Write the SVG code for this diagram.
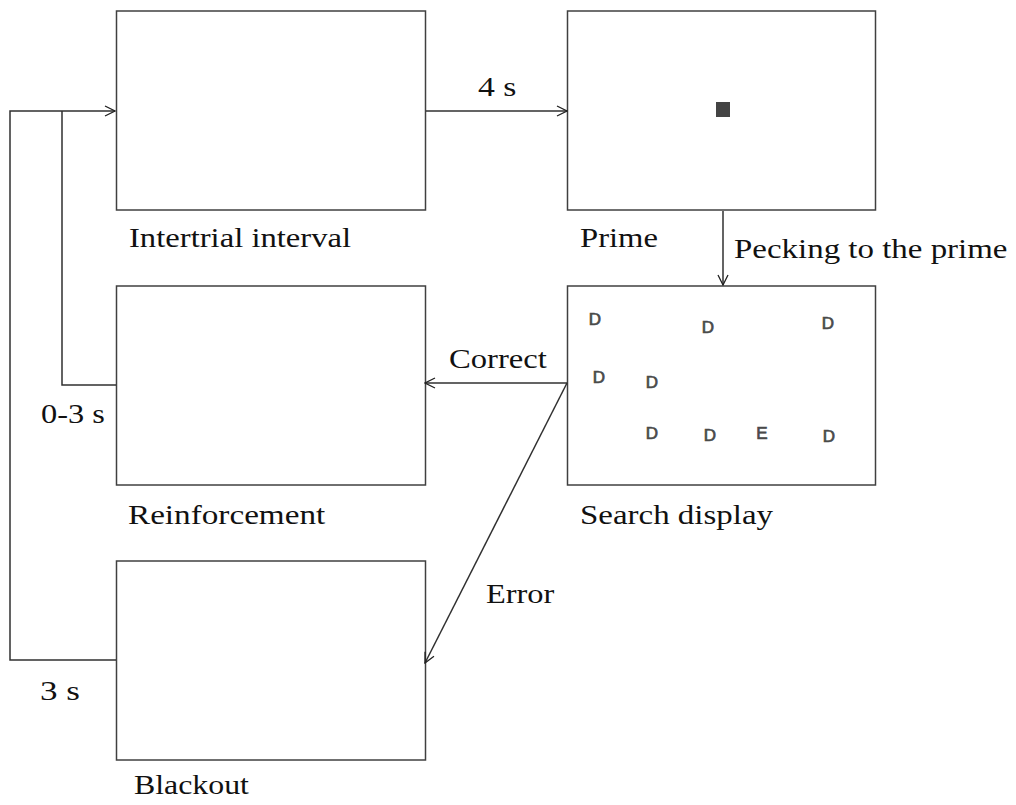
<svg xmlns="http://www.w3.org/2000/svg" width="1016" height="805" viewBox="0 0 1016 805">
  <style>
    .box { fill: #ffffff; stroke: #404040; stroke-width: 1.5; }
    .lbl { font-family: "Liberation Serif", "Times New Roman", serif; font-size: 27px; fill: #111111; }
    .stim { font-family: "Liberation Sans", Arial, sans-serif; font-size: 17px; fill: #4a4a4a; stroke: #4a4a4a; stroke-width: 0.7; text-anchor: middle; }
    .wire { fill: none; stroke: #303030; stroke-width: 1.5; }
  </style>
  <defs>
    <marker id="arrow" viewBox="0 0 12 12" refX="11" refY="6" markerWidth="12" markerHeight="12" markerUnits="userSpaceOnUse" orient="auto">
      <path d="M1,1 L11,6 L1,11" fill="none" stroke="#202020" stroke-width="1.3"/>
    </marker>
  </defs>
  <rect width="1016" height="805" fill="#ffffff"/>

  <g id="intertrial">
    <rect class="box" x="116.5" y="11" width="309" height="199"/>
    <text class="lbl" transform="translate(129,247) scale(1.21,1)">Intertrial interval</text>
  </g>

  <g id="prime">
    <rect class="box" x="567.5" y="11" width="308" height="199"/>
    <rect x="716" y="102" width="14" height="15" fill="#444444"/>
    <text class="lbl" transform="translate(580,247) scale(1.21,1)">Prime</text>
  </g>

  <g id="reinforcement">
    <rect class="box" x="116.5" y="286" width="309" height="199"/>
    <text class="lbl" transform="translate(128,524) scale(1.23,1)">Reinforcement</text>
  </g>

  <g id="search">
    <rect class="box" x="567.5" y="286" width="308" height="199"/>
    <g>
      <text class="stim" x="595" y="325">D</text>
      <text class="stim" x="708" y="333">D</text>
      <text class="stim" x="828" y="329">D</text>
      <text class="stim" x="599" y="383">D</text>
      <text class="stim" x="652" y="388">D</text>
      <text class="stim" x="652" y="439">D</text>
      <text class="stim" x="710" y="441">D</text>
      <text class="stim" x="762" y="439">E</text>
      <text class="stim" x="829" y="442">D</text>
    </g>
    <text class="lbl" transform="translate(580,524) scale(1.22,1)">Search display</text>
  </g>

  <g id="blackout">
    <rect class="box" x="116.5" y="561" width="309" height="199"/>
    <text class="lbl" transform="translate(134,794) scale(1.18,1)">Blackout</text>
  </g>

  <g id="connectors">
    <path class="wire" d="M426,111 L567,111" marker-end="url(#arrow)"/>
    <text class="lbl" transform="translate(478,96) scale(1.25,1)">4 s</text>

    <path class="wire" d="M723,211 L723,285" marker-end="url(#arrow)"/>
    <text class="lbl" transform="translate(734,258) scale(1.22,1)">Pecking to the prime</text>

    <path class="wire" d="M567,383 L425,383" marker-end="url(#arrow)"/>
    <text class="lbl" transform="translate(449,368) scale(1.21,1)">Correct</text>

    <path class="wire" d="M567,383 L425,663" marker-end="url(#arrow)"/>
    <text class="lbl" transform="translate(486,603) scale(1.2,1)">Error</text>

    <path class="wire" d="M116,385 L62,385 L62,111"/>
    <text class="lbl" transform="translate(41,423) scale(1.2,1)">0-3 s</text>

    <path class="wire" d="M116,660 L10,660 L10,111 L115,111" marker-end="url(#arrow)"/>
    <text class="lbl" transform="translate(40,700) scale(1.3,1)">3 s</text>
  </g>
</svg>
